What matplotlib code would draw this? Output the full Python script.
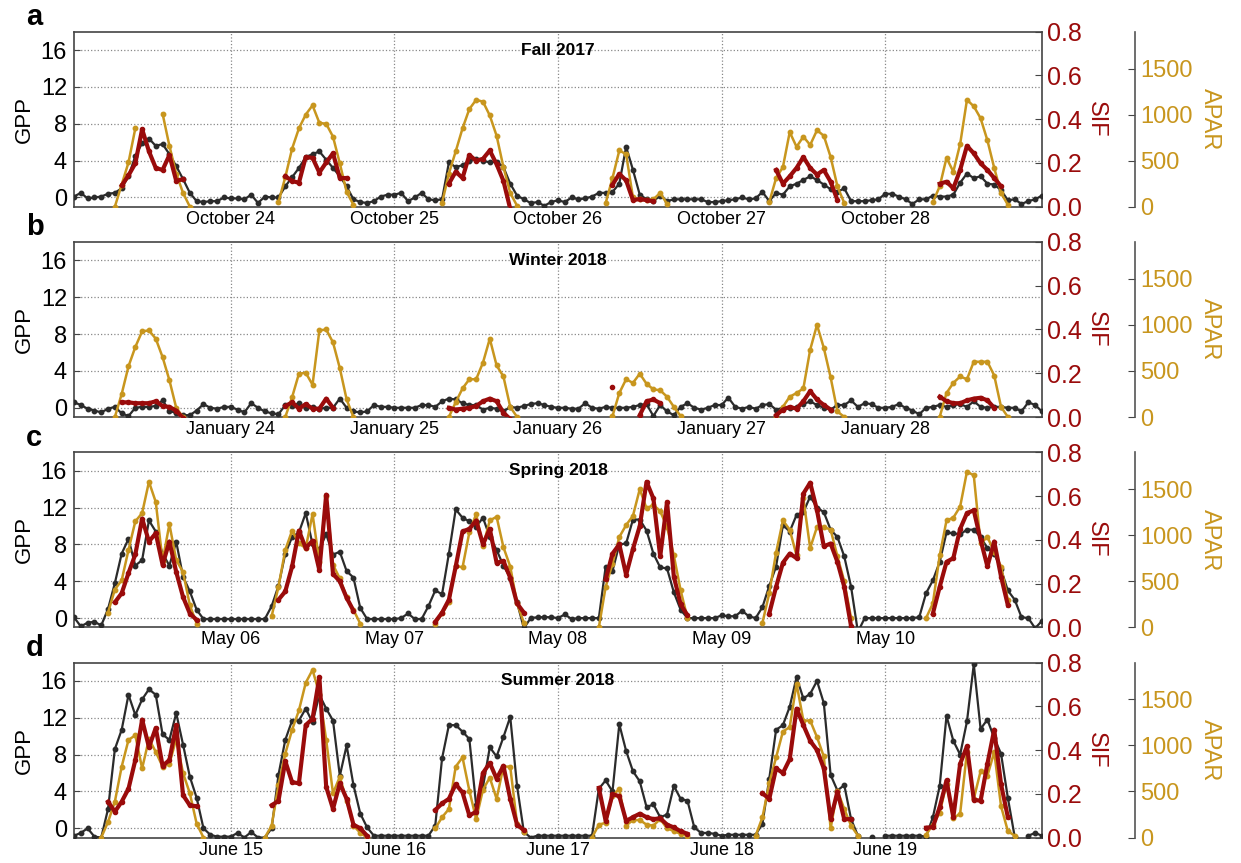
import numpy as np
import pandas as pd
import matplotlib
matplotlib.use('Agg')
import matplotlib.pyplot as plt
import matplotlib.dates as mdates
from matplotlib.ticker import FormatStrFormatter

N = np.nan

# ---- panel a : Fall 2017 (hourly, Oct 23 01:00 .. Oct 28 23:00)
gpp_a = ([0.1, 0.5, -0.1, 0.0, 0.1, 0.4, 0.5, 1.0, 2.3, 4.5, 5.9, 6.4, 5.6, 5.8, 4.7, 3.4, 2.0, 0.5, -0.4, -0.5, -0.4, -0.4, 0.0]
         + [-0.1, -0.1, -0.2, 0.3, -0.6, 0.1, 0.0, 0.0, 1.2, 2.2, 3.2, 4.4, 4.7, 5.0, 4.1, 3.2, 2.3, 1.2, -0.2, -0.5, -0.6, -0.4, 0.1, 0.3]
         + [0.3, 0.5, -0.4, 0.0, 0.5, -0.2, -0.3, -0.2, 3.8, 3.3, 3.5, 4.0, 4.2, 4.0, 3.8, 3.9, 3.3, 1.5, 0.2, -0.2, -0.6, -0.5, -0.9, -0.5]
         + [-0.3, -0.5, 0.0, -0.2, -0.1, 0.1, 0.5, 0.5, 0.6, 1.5, 5.5, 3.0, 0.3, -0.2, -0.4, 0.2, -0.4, -0.2, -0.2, -0.2, -0.2, -0.2, -0.5, -0.5]
         + [-0.4, -0.3, -0.2, 0.0, -0.2, -0.1, 0.6, -0.4, 0.5, 0.3, 1.2, 1.5, 1.9, 2.3, 1.9, 1.4, 0.9, 0.6, 1.0, -0.4, -0.4, -0.4, -0.3, -0.2]
         + [0.4, 0.4, 0.1, -0.2, -0.7, -0.2, -0.2, 0.2, 0.1, 0.1, 0.3, 1.6, 2.6, 2.1, 2.3, 1.5, 1.4, 0.8, -0.3, -0.2, -0.7, -0.4, -0.2, 0.2])
sif_a = ([N]*7 + [0.097, 0.143, 0.198, 0.354, 0.253, 0.177, 0.168, 0.236, 0.118, 0.126] + [N]*6
         + [N]*8 + [0.139, 0.118, 0.109, 0.227, 0.223, 0.156, 0.202, 0.244, 0.131, 0.131] + [N]*6
         + [N]*8 + [0.105, 0.160, 0.131, 0.236, 0.210, 0.219, 0.257, 0.194, 0.118, -0.010] + [N]*6
         + [N]*8 + [0.100, 0.150, 0.120, 0.030, 0.035, 0.030, 0.025] + [N]*9
         + [N]*8 + [0.168, 0.105, 0.139, 0.177, 0.227, 0.177, 0.147, 0.168, 0.114, 0.030] + [N]*6
         + [N]*8 + [0.105, 0.114, 0.084, 0.168, 0.278, 0.244, 0.198, 0.168, 0.131, 0.093] + [N]*6)
apar_a = ([N]*6 + [0, 240, 480, 850] + [N]*3 + [1010, 660, 360, 150, 0] + [N]*5
          + [N]*7 + [50, 320, 630, 850, 1000, 1100, 910, 900, 760, 470, 160, 20] + [N]*5
          + [N]*7 + [40, 360, 600, 850, 1060, 1160, 1140, 990, 770, 430, 150, 10] + [N]*5
          + [N]*7 + [40, 310, 610, 570, 100, 80, 70, 80, 150, 30] + [N]*7
          + [N]*7 + [50, 310, 430, 810, 650, 760, 670, 830, 770, 540, 220, 40] + [N]*5
          + [N]*7 + [50, 220, 530, 380, 680, 1160, 1090, 960, 720, 420, 150, 20] + [N]*5)

# ---- panel b : Winter 2018
gpp_b = ([0.6, 0.3, -0.1, -0.3, -0.5, -0.1, 0.1, -0.6, -0.9, 0.0, 0.1, 0.1, 0.2, 0.8, -0.3, -0.6, -0.8, -0.8, -0.3, 0.4, 0.0, -0.1, 0.1]
         + [0.1, -0.2, -0.5, 0.5, 0.0, -0.4, -0.6, -0.7, 0.3, 0.2, 0.5, 0.0, 0.1, -0.1, 0.0, 0.0, 1.0, 0.0, -0.4, -0.5, -0.4, 0.3, 0.1, 0.1]
         + [0.0, 0.0, 0.0, 0.0, 0.3, 0.3, 0.1, 0.7, 1.0, 0.9, 0.5, 0.3, 0.3, -0.2, 0.0, -0.1, -0.4, 0.1, 0.0, 0.2, 0.4, 0.5, 0.3, 0.1]
         + [0.0, 0.0, -0.1, -0.1, 0.5, 0.0, -0.1, 0.1, 0.0, 0.0, 0.0, 0.1, 0.3, 0.4, -0.9, 0.3, -0.4, -0.8, 0.1, 0.5, 0.0, -0.2, 0.0, 0.3]
         + [0.3, 1.1, 0.1, -0.1, 0.1, -0.1, 0.3, 0.4, -0.2, 0.0, 0.0, 0.1, 0.4, 0.7, 0.3, 0.0, -0.2, 0.3, 0.3, 0.8, 0.1, 0.5, 0.4, 0.0]
         + [0.0, 0.1, 0.4, 0.0, -0.3, -0.7, 0.0, 0.1, 0.3, 0.1, 0.3, 0.4, 0.1, 0.7, 0.1, 0.0, 0.1, 0.1, 0.0, 0.0, -0.4, 0.6, 0.3, -0.4])
sif_b = ([N]*7 + [0.067, 0.067, 0.063, 0.063, 0.063, 0.072, 0.050, 0.046, 0.029, -0.005] + [N]*6
         + [N]*8 + [0.050, 0.067, 0.038, 0.059, 0.038, 0.038, 0.084, 0.042] + [N]*8
         + [N]*8 + [0.042, 0.034, 0.038, 0.042, 0.050, 0.072, 0.084, 0.072, 0.020, -0.010] + [N]*6
         + [N]*8 + [0.139] + [N]*3 + [0.008, 0.072, 0.080, 0.063] + [N]*8
         + [N]*8 + [0.008, 0.034, 0.046, 0.038, 0.072, 0.118, 0.080, 0.055, 0.034] + [N]*7
         + [N]*8 + [0.093, 0.072, 0.063, 0.063, 0.076, 0.084, 0.088, 0.076, 0.042] + [N]*7)
apar_b = ([N]*6 + [0, 250, 550, 760, 930, 940, 850, 650, 400, 100, 0] + [N]*6
          + [N]*8 + [0, 215, 470, 480, 350, 940, 950, 810, 530, 190, 0] + [N]*5
          + [N]*8 + [0, 160, 310, 410, 410, 590, 850, 560, 440, 110, 0] + [N]*5
          + [N]*8 + [10, 260, 410, 370, 470, 360, 300, 290, 220, 110, 10] + [N]*5
          + [N]*8 + [0, 110, 220, 260, 310, 730, 1000, 750, 430, 60, 0] + [N]*5
          + [N]*8 + [0, 260, 370, 440, 410, 600, 600, 600, 450, 110, 0] + [N]*5)

# ---- panel c : Spring 2018
gpp_c = ([0.1, -0.9, -0.5, -0.4, -0.8, 1.0, 3.8, 7.0, 8.6, 5.7, 6.3, 10.6, 9.4, 7.0, 5.7, 8.3, 4.5, 2.9, 0.9, -0.1, -0.1, -0.1, -0.1]
         + [-0.1, -0.1, -0.1, -0.1, -0.1, -0.1, 1.3, 3.5, 7.0, 8.8, 9.3, 11.4, 8.0, 7.5, 9.1, 6.9, 7.2, 5.1, 4.4, 1.1, -0.1, -0.1, -0.1, -0.1]
         + [-0.1, 0.0, 0.5, -0.1, -0.1, 1.3, 3.0, 2.6, 7.0, 11.8, 10.9, 10.5, 9.9, 10.9, 8.8, 7.4, 5.7, 4.4, 1.7, -1.1, 0.0, 0.1, 0.1, 0.1]
         + [0.0, 0.4, -0.1, 0.0, 0.0, 0.0, 0.0, 5.6, 5.1, 8.0, 8.1, 10.7, 10.7, 9.5, 7.0, 5.5, 5.4, 2.8, 0.9, 0.0, 0.0, 0.0, 0.0, 0.0]
         + [0.3, 0.2, 0.2, 0.8, 0.2, 0.0, 1.2, 3.5, 5.6, 10.1, 9.4, 11.2, 11.5, 13.2, 12.0, 11.5, 9.6, 8.8, 6.7, 3.4, -1.5, 0.0, 0.0, 0.0]
         + [0.0, 0.0, 0.0, 0.0, 0.0, 0.1, 2.7, 4.1, 6.1, 9.3, 9.2, 9.1, 9.6, 9.6, 8.8, 7.6, 7.0, 5.3, 3.0, 2.0, 0.1, 0.0, -1.1, -0.3])
sif_c = ([N]*6 + [0.114, 0.156, 0.248, 0.333, 0.497, 0.392, 0.430, 0.286, 0.392, 0.253, 0.139, 0.063, 0.034] + [N]*4
         + [N]*7 + [0.126, 0.164, 0.278, 0.442, 0.362, 0.396, 0.261, 0.606, 0.244, 0.210, 0.135, 0.076] + [N]*5
         + [N]*6 + [0.025, 0.067, 0.126, 0.278, 0.438, 0.450, 0.488, 0.379, 0.450, 0.295, 0.303, 0.227, 0.109, 0.067] + [N]*4
         + [N]*7 + [0.219, 0.337, 0.379, 0.240, 0.358, 0.463, 0.665, 0.589, 0.324, 0.573, 0.232, 0.105, 0.055] + [N]*4
         + [N]*7 + [0.063, 0.185, 0.295, 0.337, 0.316, 0.611, 0.661, 0.535, 0.370, 0.383, 0.299, 0.185, 0.005] + [N]*4
         + [N]*7 + [0.063, 0.185, 0.299, 0.316, 0.450, 0.522, 0.535, 0.400, 0.278, 0.392, 0.232, 0.101] + [N]*5)
apar_c = ([N]*5 + [160, 410, 510, 840, 1150, 1240, 1580, 1360, 720, 1120, 730, 600, 240, 40] + [N]*4
          + [N]*6 + [120, 440, 840, 1050, 910, 860, 1230, 710, 1430, 680, 530, 330, 190, 40] + [N]*4
          + [N]*6 + [40, 150, 270, 670, 650, 1030, 1230, 880, 1160, 1200, 870, 660, 260, 50] + [N]*4
          + [N]*6 + [0, 440, 690, 980, 1110, 1210, 1500, 1290, 1330, 1260, 1090, 780, 400, 100] + [N]*4
          + [N]*6 + [50, 370, 810, 1160, 1060, 780, 1400, 860, 1090, 1090, 1060, 770, 500, 100] + [N]*4
          + [N]*6 + [100, 260, 780, 1160, 1190, 1310, 1690, 1650, 910, 980, 820, 660, 300] + [N]*5)

# ---- panel d : Summer 2018
gpp_d = ([-0.8, -0.5, 0.0, -0.9, -1.0, 2.1, 8.6, 10.7, 14.5, 12.3, 14.0, 15.1, 14.5, 10.2, 9.6, 12.5, 9.1, 5.6, 3.3, 0.0, -0.7, -0.9, -0.9]
         + [-0.9, -0.5, -1.0, -0.4, -1.0, -1.0, 0.0, 5.8, 9.6, 11.7, 11.7, 13.0, 11.5, 14.5, 13.0, 11.7, 5.7, 9.0, 4.7, 1.6, 0.1, -0.8, -0.8, -0.8]
         + [-0.8, -0.8, -0.8, -0.8, -0.8, -0.8, 0.3, 7.6, 11.2, 11.2, 10.5, 9.7, 2.5, 4.5, 8.8, 7.8, 9.9, 12.1, 4.6, -0.4, -1.0, -0.8, -0.8, -0.8]
         + [-0.8, -0.8, -0.8, -0.8, -0.8, -0.8, 4.3, 5.2, 4.0, 11.3, 8.4, 6.2, 5.1, 2.3, 2.6, 1.2, 1.5, 4.6, 3.2, 3.0, 0.1, -0.5, -0.5, -0.6]
         + [-0.8, -0.7, -0.7, -0.7, -0.7, -0.7, 0.5, 5.4, 10.7, 11.2, 13.2, 16.4, 14.1, 14.6, 16.0, 13.6, 5.8, 4.1, 4.7, 1.0, -0.8, N, -0.9, N]
         + [-0.8, -0.8, -0.8, -0.8, -0.8, -0.8, -0.9, 1.2, 4.6, 12.2, 9.5, 8.0, 11.6, 17.8, 10.8, 11.8, 9.8, 8.1, 3.3, -0.9, N, -0.8, -0.5, -0.8])
sif_d = ([N]*5 + [0.164, 0.118, 0.164, 0.223, 0.354, 0.539, 0.413, 0.501, 0.328, 0.354, 0.514, 0.194, 0.147, 0.143] + [N]*4
         + [N]*6 + [0.147, 0.168, 0.349, 0.253, 0.248, 0.514, 0.543, 0.733, 0.232, 0.131, 0.248, 0.177, 0.059, 0.042, 0.008] + [N]*3
         + [N]*6 + [0.126, 0.156, 0.177, 0.244, 0.206, 0.101, 0.118, 0.295, 0.341, 0.269, 0.328, 0.177, 0.059, 0.034] + [N]*4
         + [N]*6 + [0.227, 0.076, 0.198, 0.189, 0.076, 0.093, 0.109, 0.093, 0.084, 0.088, 0.059, 0.046, 0.029, 0.017] + [N]*4
         + [N]*6 + [0.202, 0.177, 0.316, 0.295, 0.358, 0.589, 0.514, 0.442, 0.400, 0.316, 0.084, 0.210, 0.084, 0.084] + [N]*4
         + [N]*6 + [0.045, 0.048, 0.139, 0.261, 0.093, 0.337, 0.417, 0.173, 0.168, 0.337, 0.493, 0.244, 0.093] + [N]*5)
apar_d = ([N]*4 + [0, 170, 390, 770, 1060, 1110, 750, 1070, 930, 770, 800, 1070, 700, 480, 150, 0] + [N]*3
          + [N]*5 + [0, 130, 570, 910, 1170, 1380, 1680, 1820, 1560, 1060, 480, 660, 400, 130, 50, 0] + [N]*3
          + [N]*6 + [100, 220, 310, 770, 870, 510, 200, 520, 650, 420, 770, 770, 150, 60] + [N]*4
          + [N]*5 + [0, 140, 160, 450, 530, 130, 190, 190, 140, 130, 200, 100, 70, 40, 20] + [N]*4
          + [N]*5 + [20, 220, 590, 870, 1150, 1200, 1670, 1270, 1270, 1090, 880, 100, 510, 310, 130, 20] + [N]*3
          + [N]*6 + [30, 140, 270, 580, 210, 260, 930, 420, 720, 670, 930, 340, 70, 20] + [N]*4)

letters = ['a', 'b', 'c', 'd']
seasons = ['Fall 2017', 'Winter 2018', 'Spring 2018', 'Summer 2018']
starts = ['2017-10-23 01:00', '2018-01-23 01:00', '2018-05-05 01:00', '2018-06-14 01:00']
gpp_all = [gpp_a, gpp_b, gpp_c, gpp_d]
sif_all = [sif_a, sif_b, sif_c, sif_d]
apar_all = [apar_a, apar_b, apar_c, apar_d]

plt.rcParams['font.family'] = ['Liberation Sans', 'DejaVu Sans']
c_gpp = '#2b2b2b'
c_sif = '#9a0b0b'
c_apar = '#c8961e'
c_frame = '#444444'

fig = plt.figure(figsize=(12.41, 8.63), dpi=100)
bottoms = [0.7605, 0.5168, 0.2731, 0.0295]

for i in range(4):
    t = pd.date_range(starts[i], periods=len(gpp_all[i]), freq='h')
    ax = fig.add_axes([0.0596, bottoms[i], 0.780, 0.2028])
    ax_p = ax.twinx()
    ax_s = ax.twinx()

    ax.plot(t, gpp_all[i], '-o', color=c_gpp, lw=1.6, ms=3.2, zorder=3)
    ax_p.plot(t, apar_all[i], '-o', color=c_apar, lw=1.8, ms=3.2)
    ax_s.plot(t, sif_all[i], '-o', color=c_sif, lw=3.0, ms=3.0)

    ax.set_xlim(t[0], t[-1])
    ax.set_ylim(-1, 18)
    ax.set_yticks([0, 4, 8, 12, 16])
    ax.set_ylabel('GPP', fontsize=16, labelpad=4)
    ax.xaxis.set_major_locator(mdates.DayLocator())
    ax.xaxis.set_major_formatter(mdates.DateFormatter('%B %d'))
    ax.grid(True, ls=':', color='#888888', lw=0.9)
    ax.tick_params(axis='x', direction='in', labelsize=13, pad=3, length=0)
    ax.tick_params(axis='y', direction='in', labelsize=17, pad=5, length=4, color=c_frame)
    for sp in ax.spines.values():
        sp.set_color(c_frame)
        sp.set_linewidth(1.2)

    ax_s.set_ylim(0, 0.8)
    ax_s.set_yticks([0, 0.2, 0.4, 0.6, 0.8])
    ax_s.yaxis.set_major_formatter(FormatStrFormatter('%.1f'))
    ax_s.tick_params(axis='y', direction='in', labelsize=18, colors=c_sif, length=5, pad=4)
    ax_s.tick_params(axis='y', color=c_frame)
    ax_s.set_ylabel('SIF', color=c_sif, fontsize=17, rotation=270, labelpad=18)
    for sp in ax_s.spines.values():
        sp.set_visible(False)

    ax_p.spines['right'].set_position(('axes', 1.096))
    ax_p.set_ylim(0, 1900)
    ax_p.set_yticks([0, 500, 1000, 1500])
    ax_p.tick_params(axis='y', direction='in', labelsize=17, colors=c_apar, length=5, pad=4)
    ax_p.tick_params(axis='y', color=c_frame)
    ax_p.set_ylabel('APAR', color=c_apar, fontsize=17, rotation=270, labelpad=20)
    for k in ['left', 'top', 'bottom']:
        ax_p.spines[k].set_visible(False)
    ax_p.spines['right'].set_color('#555555')
    ax_p.spines['right'].set_linewidth(1.2)

    ax.text(0.5, 17 / 19, seasons[i], transform=ax.transAxes, ha='center', va='center',
            fontsize=12.5, fontweight='bold')
    fig.text(0.021, bottoms[i] + 0.2028 + 0.017, letters[i], fontsize=21, fontweight='bold',
             ha='left', va='center')

fig.savefig('out.png', dpi=100)
